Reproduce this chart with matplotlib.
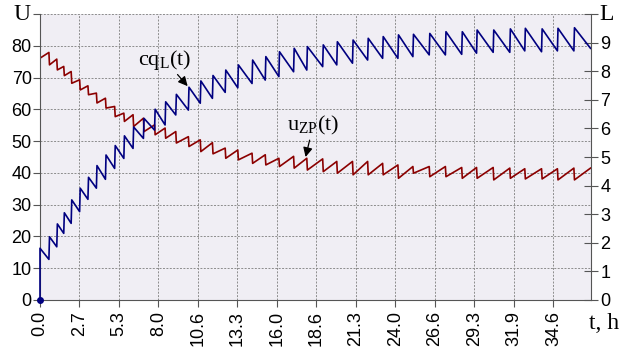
import matplotlib
matplotlib.use("Agg")
import matplotlib.pyplot as plt

# jump instants, h
t_jump = [0.0, 0.6, 1.13, 1.6, 2.1, 2.67, 3.23, 3.8, 4.41, 5.03, 5.65, 6.27, 6.97,
          7.72, 8.43, 9.15, 10.0, 10.8, 11.62, 12.48, 13.33, 14.29, 15.18, 16.1,
          17.09, 17.98, 19.05, 20.0, 21.06, 22.08, 23.09, 24.12, 25.13, 26.23,
          27.32, 28.42, 29.42, 30.54, 31.66, 32.67, 33.8, 34.87, 35.98]
t_end = 37.1

# cq_L(t), right axis L: value just before / just after each jump
cq_before = [0.0, 1.42, 1.86, 2.33, 2.68, 3.09, 3.52, 3.91, 4.22, 4.60, 4.95, 5.30,
             5.65, 5.94, 6.12, 6.47, 6.64, 6.88, 7.05, 7.26, 7.42, 7.57, 7.69, 7.81,
             7.98, 8.04, 8.16, 8.22, 8.28, 8.39, 8.45, 8.45, 8.51, 8.57, 8.57, 8.59,
             8.63, 8.66, 8.66, 8.71, 8.68, 8.71, 8.71]
cq_after = [1.81, 2.21, 2.66, 3.05, 3.50, 3.91, 4.29, 4.70, 5.07, 5.40, 5.74, 6.05,
            6.35, 6.67, 6.93, 7.19, 7.44, 7.66, 7.85, 8.04, 8.22, 8.39, 8.51, 8.68,
            8.80, 8.86, 8.92, 9.03, 9.09, 9.15, 9.21, 9.27, 9.29, 9.32, 9.38, 9.38,
            9.44, 9.44, 9.48, 9.50, 9.48, 9.50, 9.52]
cq_end = 8.80

# u_ZP(t), left axis U
u_before = [0.0, 77.9, 75.8, 73.5, 71.9, 69.3, 67.4, 65.1, 63.5, 60.9, 58.8, 58.3,
            57.2, 55.1, 54.1, 53.0, 51.4, 50.4, 49.5, 47.8, 47.2, 46.2, 45.7, 44.6,
            45.2, 44.6, 44.4, 43.6, 43.6, 43.6, 43.0, 42.5, 42.0, 42.0, 42.0, 41.7,
            41.7, 41.7, 41.5, 41.3, 41.3, 41.3, 41.5]
u_after = [76.1, 74.0, 72.4, 70.6, 68.2, 66.1, 64.6, 62.0, 60.4, 57.7, 56.2, 54.6,
           53.0, 52.0, 50.9, 49.4, 48.3, 46.7, 46.0, 44.6, 44.1, 43.0, 42.5, 42.0,
           41.5, 40.9, 40.4, 39.9, 39.4, 39.4, 39.4, 38.3, 39.9, 38.8, 38.8, 38.3,
           38.3, 37.8, 38.3, 38.1, 38.1, 37.8, 37.8]
u_end = 41.5

x_ticks = [i * 2.662 for i in range(14)]
x_labels = ['0.0', '2.7', '5.3', '8.0', '10.6', '13.3', '16.0', '18.6', '21.3',
            '24.0', '26.6', '29.3', '31.9', '34.6']

dw = 0.04
tb, cb, ub = [], [], []
for k in range(len(t_jump)):
    tb += [t_jump[k], t_jump[k] + (dw if k else 0)]
    cb += [cq_before[k], cq_after[k]]
    ub += [u_before[k], u_after[k]]
tb.append(t_end)
cb.append(cq_end)
ub.append(u_end)

blue = '#000080'
red = '#8b0000'
serif = 'Liberation Serif'
plt.rcParams['font.family'] = 'Liberation Sans'

fig = plt.figure(figsize=(6.2, 3.47), dpi=100)
ax = fig.add_axes([40/620, 1-300/347, 550.5/620, 286/347])
ax.set_facecolor('#f0eef4')
ax2 = ax.twinx()

ax.plot(tb, ub, color=red, lw=1.2)
ax2.plot(tb, cb, color=blue, lw=1.2, clip_on=False)
ax2.plot([0], [0], 'o', color=blue, ms=4, clip_on=False)

ax.set_xlim(0, t_end)
ax.set_ylim(0, 90)
ax2.set_ylim(0, 10)
ax.set_xticks(x_ticks)
ax.set_xticklabels(x_labels, rotation=90, fontsize=13)
ax.set_yticks(range(0, 100, 10))
ax.set_yticklabels([str(v) for v in range(0, 90, 10)] + [''], fontsize=13)
ax2.set_yticks(range(0, 11))
ax2.set_yticklabels([str(v) for v in range(0, 10)] + [''], fontsize=13)

ax.grid(True, color='#8c8c8c', ls=(0, (2, 1.5)), lw=0.7)
ax.set_axisbelow(True)
ax.spines['top'].set_visible(False)
ax2.spines['top'].set_visible(False)
ax2.spines['right'].set_color('#555555')
ax.spines['left'].set_color('#555555')
ax.spines['bottom'].set_color('#555555')
ax.spines['right'].set_visible(False)
ax2.spines['left'].set_visible(False)
ax2.spines['bottom'].set_visible(False)
ax.tick_params(axis='y', direction='out', length=5, color='#555555', pad=1)
ax.tick_params(axis='x', direction='out', length=5, color='#555555', pad=3)
ax2.tick_params(axis='y', direction='inout', length=10, color='#555555', pad=2)

ax.text(-0.6, 90, 'U', family=serif, fontsize=17, ha='right', va='center')
ax2.text(t_end + 0.6, 10, 'L', family=serif, fontsize=17, ha='left', va='center')
ax.text(t_end + 0.9, -4, 't, h', family=serif, fontsize=17, ha='center', va='top',
        clip_on=False)

arrow = dict(arrowstyle='-|>', color='black', lw=0.9, mutation_scale=14,
             shrinkA=0, shrinkB=0)
ax.annotate('cq$_\\mathregular{L}$(t)', xy=(9.95, 67.3), xytext=(8.4, 75.6),
            family=serif, fontsize=16, ha='center', va='center', arrowprops=arrow)
ax.annotate('u$_\\mathregular{ZP}$(t)', xy=(17.9, 45.0), xytext=(18.4, 54.8),
            family=serif, fontsize=16, ha='center', va='center', arrowprops=arrow)

fig.savefig('out.png', dpi=100)
